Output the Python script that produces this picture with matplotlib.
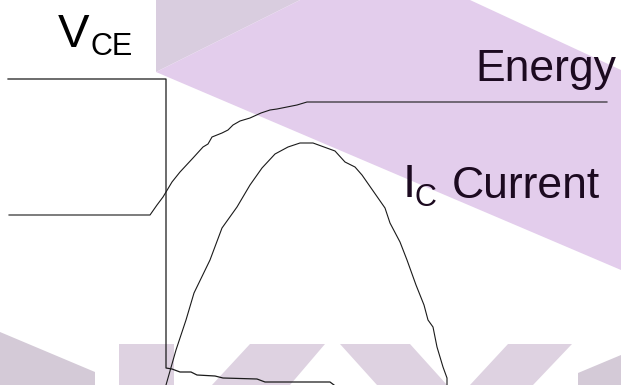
import matplotlib
matplotlib.use("Agg")
import matplotlib.pyplot as plt

# ---- waveform data (x = time position, value = height) ----
vce_t = [8, 166, 166, 172, 180, 191, 197, 215, 223, 257, 265, 330, 334]
vce_v = [306, 306, 17, 16, 13, 13, 10, 9, 7, 6, 3, 3, 0]

energy_t = [9, 150, 157, 163, 172, 180, 193, 203, 208, 212, 222, 228, 233,
            240, 250, 261, 270, 277, 287, 297, 307, 607]
energy_v = [170, 170, 180, 188, 203, 213, 227, 238, 241, 248, 252, 255, 260,
            264, 267, 272, 275, 276, 278, 280, 283, 283]

ic_t = [166, 176, 186, 194, 210, 222, 237, 250, 262, 275, 288, 300, 313,
        335, 345, 355, 362, 385, 390, 400, 407, 416, 424, 428, 433, 437,
        443, 447, 447]
ic_v = [0, 35, 65, 92, 125, 157, 178, 200, 217, 231, 238, 242, 242,
        234, 223, 218, 210, 177, 162, 143, 125, 100, 80, 65, 58, 38,
        18, 7, 0]

# ---- background watermark shapes (decoration) ----
logo_shapes = [
    ([(156, 385), (300, 385), (156, 313)], "#d9cddf"),
    ([(156, 313), (300, 385), (470, 385), (621, 315), (621, 115)], "#e3cdec"),
    ([(0, 53), (95, 13), (95, 0), (0, 0)], "#d4cad7"),
    ([(119, 0), (119, 41), (174, 41), (174, 0)], "#ded2e1"),
    ([(212, 0), (250, 41), (325, 41), (290, 0)], "#ded2e1"),
    ([(340, 41), (410, 41), (447, 0), (377, 0)], "#ded2e1"),
    ([(470, 0), (508, 41), (572, 41), (533, 0)], "#ded2e1"),
    ([(578, 12), (621, 30), (621, 0), (578, 0)], "#d4cad7"),
]

fig = plt.figure(figsize=(6.21, 3.85), dpi=100)
ax = fig.add_axes([0, 0, 1, 1])
ax.set_xlim(0, 621)
ax.set_ylim(0, 385)
ax.axis("off")

for pts, col in logo_shapes:
    xs = [p[0] for p in pts]
    ys = [p[1] for p in pts]
    ax.fill(xs, ys, color=col, lw=0, zorder=1)

ax.plot(vce_t, vce_v, color="#1a1a1a", lw=0.9, zorder=3)
ax.plot(energy_t, energy_v, color="#1a1a1a", lw=0.8, zorder=3)
ax.plot(ic_t, ic_v, color="#1a1a1a", lw=0.8, zorder=3)

fam = ["Liberation Sans", "DejaVu Sans"]
dark = "#1c0a20"
ax.text(58, 338, "V", fontsize=34, family=fam, color="black", ha="left", va="baseline", zorder=4)
ax.text(91, 330, "CE", fontsize=22, family=fam, color="black", ha="left", va="baseline", zorder=4)
ax.text(475, 304, "Energy", fontsize=32, family=fam, color=dark, ha="left", va="baseline", zorder=4)
ax.text(403, 188, "I", fontsize=34, family=fam, color=dark, ha="left", va="baseline", zorder=4)
ax.text(414, 179, "C", fontsize=22, family=fam, color=dark, ha="left", va="baseline", zorder=4)
ax.text(452, 187, "Current", fontsize=32, family=fam, color=dark, ha="left", va="baseline", zorder=4)

fig.savefig("out.png", dpi=100)
